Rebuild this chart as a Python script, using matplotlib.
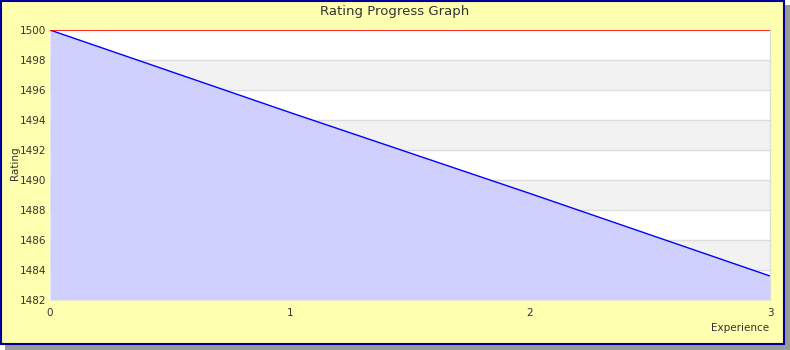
import matplotlib
matplotlib.use("Agg")
import matplotlib.pyplot as plt
from matplotlib.patches import Rectangle

experience = [0, 1, 2, 3]
rating = [1500, 1494.5, 1489.1, 1483.6]
y_ticks = [1482, 1484, 1486, 1488, 1490, 1492, 1494, 1496, 1498, 1500]
x_ticks = [0, 1, 2, 3]
title = "Rating Progress Graph"
x_label = "Experience"
y_label = "Rating"

W, H = 790, 350
fig = plt.figure(figsize=(W / 100, H / 100), dpi=100)
fig.patch.set_facecolor("white")

# shadow and frame
fig.patches.append(Rectangle((5 / W, 0), (W - 5) / W, (H - 5) / H, transform=fig.transFigure,
                             facecolor="#9a9a9a", edgecolor="none", zorder=0))
fig.patches.append(Rectangle((1 / W, 6 / H), (W - 7) / W, (H - 7) / H, transform=fig.transFigure,
                             facecolor="#FFFFB0", edgecolor="#000099", linewidth=1.5, zorder=1))

ax = fig.add_axes([50 / W, 1 - 300 / H, 720 / W, 270 / H])
ax.set_zorder(2)
ax.set_xlim(0, 3)
ax.set_ylim(1482, 1500)

# alternating bands
for i in range(len(y_ticks) - 1):
    lo, hi = y_ticks[i], y_ticks[i + 1]
    color = "#F2F2F2" if i % 2 == 1 else "white"
    ax.axhspan(lo, hi, color=color, zorder=0, linewidth=0)
for yt in y_ticks[1:-1]:
    ax.axhline(yt, color="#DDDDDD", linewidth=1, zorder=0.5)
ax.axhline(1500, color="#FF0000", linewidth=1.2, zorder=3)

ax.fill_between(experience, rating, 1482, color="#D0D0FF", linewidth=0, zorder=1)
ax.plot(experience, rating, color="#0000FF", linewidth=1, zorder=2)

for name, s in ax.spines.items():
    s.set_visible(name == "right")
ax.spines["right"].set_color("#DDDDDD")
ax.spines["right"].set_linewidth(1)
ax.set_xticks(x_ticks)
ax.set_yticks(y_ticks)
ax.tick_params(length=0, labelsize=7.5, colors="#333333", pad=3)
ax.tick_params(axis="y", pad=3)
ax.tick_params(axis="x", pad=6)

fig.text(0.5, 1 - 11 / H, title, ha="center", va="center", fontsize=9.5, color="#333333")
fig.text(769 / W, 1 - 328 / H, x_label, ha="right", va="center", fontsize=7.5, color="#333333")
fig.text(15 / W, 1 - 163 / H, y_label, ha="center", va="center", rotation=90, fontsize=7.5, color="#333333")

fig.savefig("out.png", dpi=100)
